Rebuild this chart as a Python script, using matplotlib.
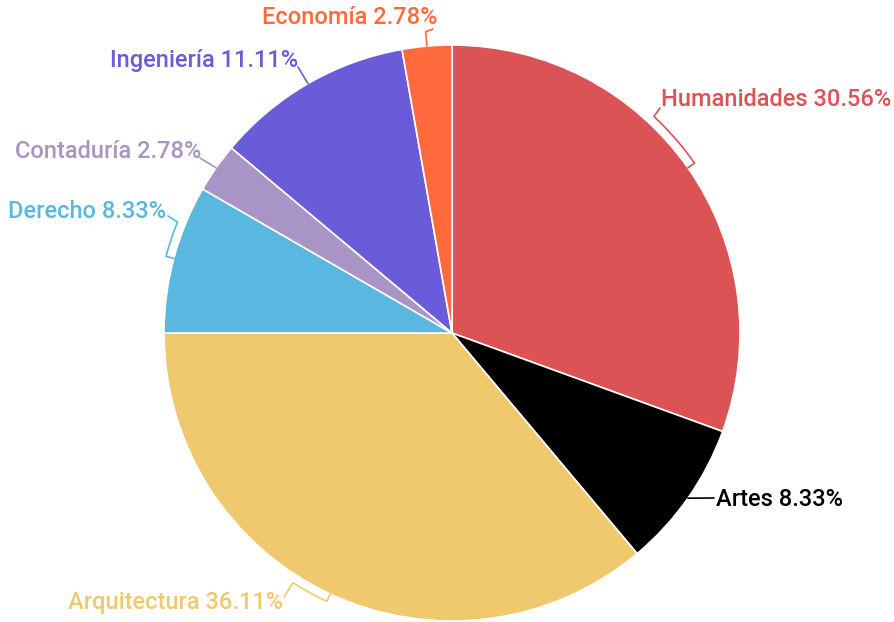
import numpy as np
import matplotlib
matplotlib.use("Agg")
import matplotlib.pyplot as plt

# ---- data ----
categories = ["Humanidades", "Artes", "Arquitectura", "Derecho", "Contaduría", "Ingeniería", "Economía"]
values = [11, 3, 13, 3, 1, 4, 1]
colors = ["#DC5356", "#000000", "#F0C86E", "#5AB8E0", "#A994C6", "#6A5BD8", "#FF6A3C"]

# ---- layout (pixel geometry of the reference) ----
W, H = 894, 622
CX, CY, R = 452, 333, 288
# per label: bracket angular span (deg, clockwise from mid), elbow radius, leader end (px), text anchor (px), ha
layout = [
    (-12, 1.028, (660, 108), (661, 100), "left"),
    (0, 1.0, (714, 498), (716, 499), "left"),
    (7.5, 1.028, (284, 597), (283, 603), "right"),
    (7, 1.028, (168, 216), (166, 211), "right"),
    (0, 1.0, (200, 158), (201, 151), "right"),
    (0, 1.0, (298, 67), (298, 60), "right"),
    (0, 1.05, (433, 29), (437, 18), "right"),
]

plt.rcParams["font.family"] = ["Roboto", "DejaVu Sans"]

fig = plt.figure(figsize=(W / 100, H / 100), dpi=100)
ax = fig.add_axes([0, 0, 1, 1])

ax.pie(values, colors=colors, startangle=90, counterclock=False, radius=1, center=(0, 0),
       wedgeprops=dict(edgecolor="white", linewidth=1.2))
ax.set_xlim(-CX / R, (W - CX) / R)
ax.set_ylim(-(H - CY) / R, CY / R)
ax.set_aspect("equal")
ax.axis("off")


def px(p):
    return ((p[0] - CX) / R, (CY - p[1]) / R)


def pt(ang, r):
    # ang: degrees clockwise from 12 o'clock
    a = np.deg2rad(ang)
    return (r * np.sin(a), r * np.cos(a))


total = sum(values)
start = 0.0
for cat, v, c, lay in zip(categories, values, colors, layout):
    frac = v / total
    mid = start + frac * 360 / 2
    start += frac * 360
    span, relb, end, tpos, ha = lay
    pts = [pt(mid, 1.0), pt(mid, relb)]
    if span != 0:
        for a in np.linspace(mid, mid + span, 20):
            pts.append(pt(a, relb))
    pts.append(px(end))
    xs, ys = zip(*pts)
    ax.plot(xs, ys, color=c, lw=1.2, solid_capstyle="round", zorder=3)
    tx, ty = px(tpos)
    ax.text(tx, ty, f"{cat} {100 * frac:.2f}%", color=c, fontsize=17, fontweight="medium",
            ha=ha, va="center")

fig.savefig("out.png", dpi=100)
